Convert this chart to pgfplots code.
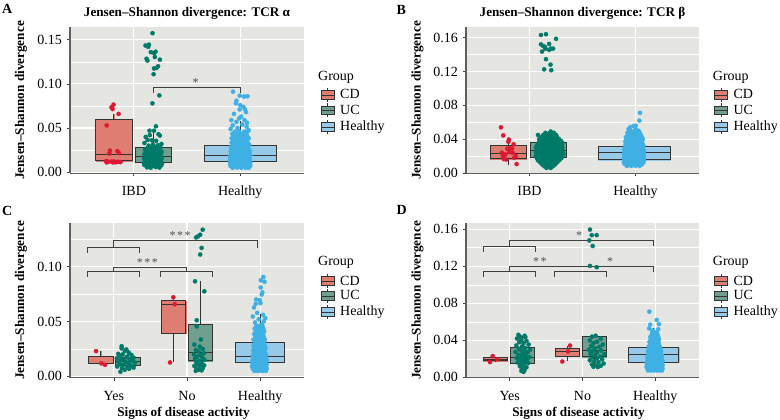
\documentclass[border=0pt]{standalone}
\usepackage{fontspec}
\setmainfont{Liberation Serif}
\usepackage{pgfplots}
\pgfplotsset{compat=1.18}
\usepgfplotslibrary{statistics}

\definecolor{bg}{RGB}{229,229,226}
\definecolor{CDpt}{RGB}{220,24,52}
\definecolor{CDbox}{RGB}{222,125,114}
\definecolor{UCpt}{RGB}{0,122,104}
\definecolor{UCbox}{RGB}{112,158,143}
\definecolor{HEpt}{RGB}{62,176,228}
\definecolor{HEbox}{RGB}{150,202,232}
\definecolor{axl}{RGB}{95,95,95}

\pgfplotsset{
  jsd/.style={
    scale only axis, anchor=south west,
    axis background/.style={fill=bg},
    axis x line*=bottom, axis y line*=left,
    axis line style={-, axl, line width=1.1pt},
    tick align=outside, major tick length=3pt, minor tick length=0pt,
    tick style={black!75, line width=0.7pt},
    xmajorgrids, ymajorgrids, yminorgrids,
    major grid style={white, line width=1.1pt},
    minor grid style={white, line width=0.55pt},
    tick label style={font=\fontsize{14}{14}\selectfont},
    /pgf/number format/assume math mode=true,
    yticklabel style={/pgf/number format/fixed, /pgf/number format/fixed zerofill, /pgf/number format/precision=2, anchor=east, inner sep=0pt, xshift=-5pt},
    xticklabel style={anchor=base, inner sep=0pt, yshift=-19.5pt},
    boxplot/draw direction=y,
    boxplot/whisker extend=0,
  },
  pts/.style={only marks, mark=*, mark size=2.1pt, color=#1, mark options={fill=#1, draw=#1, line width=0.3pt}},
  brk/.style={black!75, line width=0.8pt, mark=none},
}
\newcommand\bfill[4]{\addplot[boxplot prepared={draw position=#1, box extend=#2, #3}, draw=#4, fill=#4, line width=0.5pt] coordinates {};}
\newcommand\bline[3]{\addplot[boxplot prepared={draw position=#1, box extend=#2, #3}, draw=black!80, fill=none, line width=0.9pt] coordinates {};}
\newcommand\lkey[3]{%
  \draw[black!80, line width=0.8pt] (#1,#2-7) -- (#1,#2+7);
  \draw[black!80, line width=0.8pt, fill=#3] (#1-6.5,#2-4.3) rectangle (#1+6.5,#2+4.3);
  \draw[black!80, line width=0.8pt] (#1-6.5,#2) -- (#1+6.5,#2);}
\newcommand\sigstar[3]{\node[anchor=base, inner sep=0pt, black!70, font=\fontsize{12}{12}\selectfont] at (axis cs:#1,#2) {#3};}

\begin{document}
\begin{tikzpicture}
\path[use as bounding box] (0pt,0pt) rectangle (780pt,420pt);

% ---------------- Panel A ----------------
\begin{axis}[jsd, at={(70pt,246.5pt)}, width=234pt, height=146.5pt,
  xmin=0.4, xmax=2.6, ymin=-0.0015, ymax=0.1645,
  xtick={1,2}, xticklabels={IBD,Healthy},
  ytick={0,0.05,0.10,0.15}, minor ytick={0.025,0.075,0.125}]
\bfill{0.813}{0.34}{lower whisker=0.012, lower quartile=0.0128, median=0.0205, upper quartile=0.0602, upper whisker=0.066}{CDbox}
\bfill{1.184}{0.34}{lower whisker=0.0052, lower quartile=0.0114, median=0.0174, upper quartile=0.028, upper whisker=0.048}{UCbox}
\bfill{2.0}{0.68}{lower whisker=0.0064, lower quartile=0.0125, median=0.0185, upper quartile=0.0307, upper whisker=0.0575}{HEbox}
% CD points
\addplot[pts=CDpt] coordinates {(0.809,0.0765)(0.790,0.0735)(0.800,0.0715)(0.857,0.0660)(0.745,0.0530)(0.775,0.0245)(0.845,0.0238)(0.860,0.0215)(0.770,0.0210)(0.740,0.0125)(0.762,0.0118)(0.790,0.0120)(0.812,0.0122)(0.830,0.0112)(0.852,0.0118)(0.875,0.0115)(0.745,0.0110)(0.805,0.0110)};
% UC points
\addplot[pts=UCpt] coordinates {(1.176,0.1575)(1.110,0.1435)(1.135,0.1420)(1.142,0.1445)(1.160,0.1360)(1.190,0.1350)(1.205,0.1365)(1.120,0.1285)(1.128,0.1265)(1.198,0.1305)(1.245,0.1275)(1.228,0.1200)(1.212,0.1180)(1.190,0.1175)(1.186,0.1110)(1.175,0.0780)(1.240,0.0870)
(1.148,0.0470)(1.190,0.0470)(1.208,0.0520)(1.112,0.0400)(1.150,0.0420)(1.232,0.0430)(1.245,0.0415)(1.170,0.0360)(1.210,0.0355)(1.130,0.0365)(1.100,0.0330)(1.260,0.0320)(1.180,0.0310)(1.140,0.0300)(1.225,0.0305)
(1.125,0.0055)(1.160,0.0050)(1.205,0.0058)(1.240,0.0052)
(1.100,0.0080)(1.140,0.0083)(1.178,0.0078)(1.222,0.0081)(1.258,0.0077)
(1.095,0.0105)(1.120,0.0102)(1.158,0.0108)(1.195,0.0104)(1.232,0.0106)(1.265,0.0101)
(1.108,0.0130)(1.145,0.0128)(1.182,0.0133)(1.215,0.0129)(1.250,0.0131)
(1.097,0.0155)(1.130,0.0158)(1.168,0.0153)(1.205,0.0156)(1.240,0.0152)(1.262,0.0157)
(1.115,0.0180)(1.152,0.0178)(1.190,0.0183)(1.228,0.0179)(1.255,0.0182)
(1.100,0.0205)(1.138,0.0208)(1.175,0.0203)(1.212,0.0206)(1.248,0.0204)
(1.122,0.0230)(1.160,0.0228)(1.198,0.0233)(1.236,0.0229)(1.262,0.0231)
(1.105,0.0255)(1.145,0.0258)(1.185,0.0253)(1.222,0.0256)
(1.132,0.0280)(1.172,0.0278)(1.210,0.0283)(1.250,0.0279)};
% Healthy points
\addplot[pts=HEpt] coordinates {(1.933,0.0912)(1.996,0.0867)(2.037,0.0857)(2.068,0.0860)(1.965,0.0810)(1.960,0.0780)(2.000,0.0760)(2.030,0.0740)(1.995,0.0710)(2.045,0.0710)(2.055,0.0680)(1.942,0.0660)(2.010,0.0630)(1.990,0.0610)(1.917,0.0590)(1.965,0.0570)(2.040,0.0590)(2.065,0.0560)(1.930,0.0530)(2.020,0.0540)(2.060,0.0515)(1.975,0.0500)(1.910,0.0490)(2.080,0.0475)
(1.93,0.0050)(1.97,0.0052)(2.01,0.0049)(2.05,0.0051)(2.08,0.0050)
(1.91,0.0070)(1.95,0.0072)(1.99,0.0069)(2.03,0.0071)(2.07,0.0070)(2.095,0.0072)
(1.905,0.0090)(1.93,0.0092)(1.97,0.0089)(2.01,0.0091)(2.05,0.0090)(2.085,0.0092)
(1.91,0.0110)(1.95,0.0112)(1.99,0.0109)(2.03,0.0111)(2.07,0.0110)(2.095,0.0112)
(1.905,0.0130)(1.93,0.0132)(1.97,0.0129)(2.01,0.0131)(2.05,0.0130)(2.085,0.0132)
(1.91,0.0150)(1.95,0.0152)(1.99,0.0149)(2.03,0.0151)(2.07,0.0150)(2.09,0.0152)
(1.905,0.0170)(1.93,0.0172)(1.97,0.0169)(2.01,0.0171)(2.05,0.0170)(2.08,0.0172)
(1.91,0.0190)(1.95,0.0192)(1.99,0.0189)(2.03,0.0191)(2.07,0.0190)(2.095,0.0192)
(1.92,0.0210)(1.96,0.0212)(2.00,0.0209)(2.04,0.0211)(2.08,0.0210)
(1.91,0.0235)(1.94,0.0237)(1.98,0.0234)(2.02,0.0236)(2.06,0.0235)(2.09,0.0237)
(1.92,0.0260)(1.96,0.0262)(2.00,0.0259)(2.04,0.0261)(2.08,0.0260)
(1.915,0.0285)(1.95,0.0287)(1.99,0.0284)(2.03,0.0286)(2.07,0.0285)
(1.93,0.0310)(1.97,0.0312)(2.01,0.0309)(2.05,0.0311)(2.085,0.0310)
(1.92,0.0335)(1.96,0.0337)(2.00,0.0334)(2.04,0.0336)(2.07,0.0335)
(1.935,0.0360)(1.975,0.0362)(2.015,0.0359)(2.06,0.0361)
(1.92,0.0385)(1.96,0.0387)(2.00,0.0384)(2.045,0.0386)(2.08,0.0385)
(1.94,0.0410)(1.98,0.0412)(2.03,0.0409)(2.065,0.0411)
(1.925,0.0435)(1.97,0.0437)(2.01,0.0434)(2.05,0.0436)
(1.95,0.0460)(1.99,0.0462)(2.04,0.0459)(2.07,0.0461)};
\bline{0.813}{0.34}{lower whisker=0.012, lower quartile=0.0128, median=0.0205, upper quartile=0.0602, upper whisker=0.066}
\bline{1.184}{0.34}{lower whisker=0.0052, lower quartile=0.0114, median=0.0174, upper quartile=0.028, upper whisker=0.048}
\bline{2.0}{0.68}{lower whisker=0.0064, lower quartile=0.0125, median=0.0185, upper quartile=0.0307, upper whisker=0.0575}
\addplot[brk] coordinates {(1.184,0.0892)(1.184,0.0955)(2.0,0.0955)(2.0,0.0892)};
\sigstar{1.581}{0.0975}{*}
\end{axis}

% ---------------- Panel B ----------------
\begin{axis}[jsd, at={(466pt,246.5pt)}, width=233pt, height=146.5pt,
  xmin=0.4, xmax=2.6, ymin=-0.0005, ymax=0.1725,
  xtick={1,2}, xticklabels={IBD,Healthy},
  ytick={0,0.04,0.08,0.12,0.16}, minor ytick={0.02,0.06,0.10,0.14}]
\bfill{0.803}{0.34}{lower whisker=0.0094, lower quartile=0.0169, median=0.0232, upper quartile=0.0326, upper whisker=0.0424}{CDbox}
\bfill{1.18}{0.34}{lower whisker=0.0055, lower quartile=0.0181, median=0.0267, upper quartile=0.0357, upper whisker=0.0487}{UCbox}
\bfill{1.99}{0.68}{lower whisker=0.0082, lower quartile=0.0157, median=0.0247, upper quartile=0.0314, upper whisker=0.054}{HEbox}
\addplot[pts=CDpt] coordinates {(0.730,0.0540)(0.752,0.0445)(0.800,0.0370)(0.850,0.0340)(0.815,0.0295)(0.790,0.0288)(0.835,0.0290)(0.738,0.0240)(0.770,0.0220)(0.748,0.0200)(0.870,0.0200)(0.855,0.0180)(0.780,0.0160)(0.757,0.0165)(0.878,0.0106)(0.810,0.0250)(0.840,0.0240)(0.805,0.0395)};
\addplot[pts=UCpt] coordinates {(1.108,0.1630)(1.155,0.1640)(1.250,0.1585)(1.185,0.1525)(1.108,0.1520)(1.130,0.1500)(1.145,0.1490)(1.200,0.1470)(1.222,0.1470)(1.150,0.1468)(1.185,0.1455)(1.118,0.1435)(1.155,0.1345)(1.198,0.1280)(1.138,0.1225)(1.205,0.1215)
(1.16,0.006)(1.20,0.006)
(1.14,0.008)(1.18,0.008)(1.22,0.008)
(1.12,0.010)(1.16,0.010)(1.20,0.010)(1.24,0.010)
(1.10,0.0125)(1.14,0.0125)(1.18,0.0125)(1.22,0.0125)(1.26,0.0125)
(1.08,0.015)(1.12,0.015)(1.16,0.015)(1.20,0.015)(1.24,0.015)(1.28,0.015)
(1.07,0.0175)(1.10,0.0175)(1.14,0.0175)(1.18,0.0175)(1.22,0.0175)(1.26,0.0175)(1.30,0.0175)
(1.06,0.020)(1.09,0.020)(1.12,0.020)(1.16,0.020)(1.20,0.020)(1.24,0.020)(1.28,0.020)(1.31,0.020)
(1.07,0.0225)(1.10,0.0225)(1.14,0.0225)(1.18,0.0225)(1.22,0.0225)(1.26,0.0225)(1.30,0.0225)(1.32,0.0225)
(1.06,0.025)(1.09,0.025)(1.12,0.025)(1.16,0.025)(1.20,0.025)(1.24,0.025)(1.28,0.025)(1.31,0.025)
(1.07,0.0275)(1.10,0.0275)(1.14,0.0275)(1.18,0.0275)(1.22,0.0275)(1.26,0.0275)(1.30,0.0275)
(1.06,0.030)(1.09,0.030)(1.12,0.030)(1.16,0.030)(1.20,0.030)(1.24,0.030)(1.28,0.030)(1.31,0.030)
(1.07,0.0325)(1.10,0.0325)(1.14,0.0325)(1.18,0.0325)(1.22,0.0325)(1.26,0.0325)(1.30,0.0325)
(1.08,0.035)(1.12,0.035)(1.16,0.035)(1.20,0.035)(1.24,0.035)(1.28,0.035)(1.31,0.035)
(1.10,0.0375)(1.14,0.0375)(1.18,0.0375)(1.22,0.0375)(1.26,0.0375)(1.30,0.0375)
(1.09,0.040)(1.12,0.040)(1.16,0.040)(1.20,0.040)(1.24,0.040)(1.28,0.040)
(1.11,0.0425)(1.14,0.0425)(1.18,0.0425)(1.22,0.0425)(1.26,0.0425)
(1.08,0.045)(1.13,0.045)(1.17,0.045)(1.21,0.045)(1.25,0.045)
(1.15,0.0475)(1.19,0.0475)(1.23,0.0475)(1.20,0.049)};
\addplot[pts=HEpt] coordinates {(2.043,0.0710)(2.037,0.0620)(2.002,0.0560)(1.949,0.0540)(1.980,0.0555)
(1.92,0.0085)(1.96,0.0085)(2.00,0.0085)(2.04,0.0085)
(1.90,0.0105)(1.94,0.0105)(1.98,0.0105)(2.02,0.0105)(2.06,0.0105)
(1.89,0.0125)(1.92,0.0125)(1.96,0.0125)(2.00,0.0125)(2.04,0.0125)(2.075,0.0125)
(1.90,0.0150)(1.94,0.0150)(1.98,0.0150)(2.02,0.0150)(2.06,0.0150)(2.08,0.0150)
(1.89,0.0175)(1.92,0.0175)(1.96,0.0175)(2.00,0.0175)(2.04,0.0175)(2.075,0.0175)
(1.90,0.0200)(1.94,0.0200)(1.98,0.0200)(2.02,0.0200)(2.06,0.0200)(2.08,0.0200)
(1.89,0.0225)(1.92,0.0225)(1.96,0.0225)(2.00,0.0225)(2.04,0.0225)(2.075,0.0225)
(1.90,0.0250)(1.94,0.0250)(1.98,0.0250)(2.02,0.0250)(2.06,0.0250)(2.08,0.0250)
(1.895,0.0275)(1.92,0.0275)(1.96,0.0275)(2.00,0.0275)(2.04,0.0275)(2.075,0.0275)
(1.90,0.0300)(1.94,0.0300)(1.98,0.0300)(2.02,0.0300)(2.06,0.0300)
(1.905,0.0325)(1.93,0.0325)(1.97,0.0325)(2.01,0.0325)(2.05,0.0325)(2.075,0.0325)
(1.91,0.0350)(1.95,0.0350)(1.99,0.0350)(2.03,0.0350)(2.065,0.0350)
(1.905,0.0375)(1.94,0.0375)(1.98,0.0375)(2.02,0.0375)(2.06,0.0375)
(1.915,0.0400)(1.955,0.0400)(1.995,0.0400)(2.035,0.0400)(2.07,0.0400)
(1.91,0.0425)(1.95,0.0425)(1.99,0.0425)(2.03,0.0425)(2.06,0.0425)
(1.93,0.0450)(1.97,0.0450)(2.01,0.0450)(2.05,0.0450)
(1.925,0.0475)(1.965,0.0475)(2.005,0.0475)(2.04,0.0475)
(1.95,0.0500)(1.99,0.0500)(2.03,0.0500)(1.935,0.0520)(2.00,0.0520)};
\bline{0.803}{0.34}{lower whisker=0.0094, lower quartile=0.0169, median=0.0232, upper quartile=0.0326, upper whisker=0.0424}
\bline{1.18}{0.34}{lower whisker=0.0055, lower quartile=0.0181, median=0.0267, upper quartile=0.0357, upper whisker=0.0487}
\bline{1.99}{0.68}{lower whisker=0.0082, lower quartile=0.0157, median=0.0247, upper quartile=0.0314, upper whisker=0.054}
\end{axis}

% ---------------- Panel C ----------------
\begin{axis}[jsd, at={(70pt,42.2pt)}, width=234pt, height=154.6pt,
  xmin=0.4, xmax=3.6, ymin=-0.0013, ymax=0.1395,
  xtick={1,2,3}, xticklabels={Yes,No,Healthy},
  ytick={0,0.05,0.10}, minor ytick={0.025,0.075,0.125}]
\bfill{0.822}{0.335}{lower whisker=0.0115, lower quartile=0.0115, median=0.0118, upper quartile=0.0182, upper whisker=0.023}{CDbox}
\bfill{1.193}{0.335}{lower whisker=0.0051, lower quartile=0.010, median=0.0133, upper quartile=0.0173, upper whisker=0.024}{UCbox}
\bfill{1.817}{0.335}{lower whisker=0.0133, lower quartile=0.039, median=0.0657, upper quartile=0.0687, upper whisker=0.0705}{CDbox}
\bfill{2.182}{0.335}{lower whisker=0.0064, lower quartile=0.0142, median=0.0218, upper quartile=0.0475, upper whisker=0.0866}{UCbox}
\bfill{3.0}{0.667}{lower whisker=0.0057, lower quartile=0.013, median=0.0178, upper quartile=0.0309, upper whisker=0.0566}{HEbox}
\addplot[pts=CDpt] coordinates {(0.756,0.0230)(0.879,0.0105)(0.830,0.0118)(1.813,0.0720)(1.832,0.0657)(1.768,0.0127)};
\addplot[pts=UCpt] coordinates {(1.107,0.0275)(1.105,0.0255)(1.170,0.0245)(1.150,0.0230)(1.205,0.0215)(1.060,0.0205)(1.120,0.0200)(1.240,0.0195)(1.085,0.0185)(1.180,0.0180)(1.270,0.0170)(1.040,0.0165)(1.140,0.0160)(1.215,0.0155)(1.100,0.0150)(1.250,0.0145)(1.060,0.0135)(1.165,0.0130)(1.290,0.0125)(1.200,0.0120)(1.080,0.0110)(1.130,0.0105)(1.235,0.0100)(1.045,0.0090)(1.185,0.0085)(1.270,0.0080)(1.110,0.0075)(1.210,0.0070)(1.150,0.0060)(1.090,0.0042)
(2.215,0.1336)(2.180,0.1290)(2.150,0.1275)(2.125,0.1265)(2.200,0.1170)(2.180,0.1110)(2.110,0.0866)(2.237,0.0775)(2.133,0.0511)(2.133,0.0455)(2.190,0.0336)
(2.100,0.0290)(2.175,0.0270)(2.215,0.0250)(2.120,0.0240)(2.160,0.0225)(2.230,0.0210)(2.095,0.0200)(2.190,0.0195)(2.140,0.0180)(2.210,0.0170)(2.110,0.0160)(2.240,0.0150)(2.170,0.0140)(2.125,0.0130)(2.200,0.0120)(2.150,0.0110)(2.235,0.0100)(2.100,0.0095)(2.180,0.0085)(2.215,0.0075)(2.130,0.0070)(2.165,0.0060)(2.120,0.0050)(2.200,0.0055)};
\addplot[pts=HEpt] coordinates {(3.044,0.0905)(3.010,0.0875)(3.060,0.0862)(3.008,0.0810)(3.030,0.0765)(3.022,0.0745)(2.945,0.0700)(2.995,0.0694)(2.940,0.0660)(3.005,0.0667)(2.915,0.0627)(2.960,0.0578)(3.040,0.0560)(2.900,0.0545)(3.070,0.0530)(2.980,0.0520)(3.050,0.0500)(2.930,0.0490)(3.020,0.0470)
(2.92,0.0050)(2.96,0.0050)(3.00,0.0050)(3.04,0.0050)(3.08,0.0050)
(2.90,0.0070)(2.94,0.0070)(2.98,0.0070)(3.02,0.0070)(3.06,0.0070)(3.09,0.0070)
(2.89,0.0090)(2.92,0.0090)(2.96,0.0090)(3.00,0.0090)(3.04,0.0090)(3.08,0.0090)
(2.90,0.0110)(2.94,0.0110)(2.98,0.0110)(3.02,0.0110)(3.06,0.0110)(3.09,0.0110)
(2.89,0.0130)(2.92,0.0130)(2.96,0.0130)(3.00,0.0130)(3.04,0.0130)(3.08,0.0130)
(2.90,0.0150)(2.94,0.0150)(2.98,0.0150)(3.02,0.0150)(3.06,0.0150)(3.09,0.0150)
(2.91,0.0170)(2.95,0.0170)(2.99,0.0170)(3.03,0.0170)(3.07,0.0170)
(2.90,0.0190)(2.93,0.0190)(2.97,0.0190)(3.01,0.0190)(3.05,0.0190)(3.08,0.0190)
(2.92,0.0210)(2.96,0.0210)(3.00,0.0210)(3.04,0.0210)(3.07,0.0210)
(2.905,0.0235)(2.94,0.0235)(2.98,0.0235)(3.02,0.0235)(3.06,0.0235)
(2.92,0.0260)(2.96,0.0260)(3.00,0.0260)(3.04,0.0260)(3.075,0.0260)
(2.91,0.0285)(2.95,0.0285)(2.99,0.0285)(3.03,0.0285)(3.06,0.0285)
(2.93,0.0310)(2.97,0.0310)(3.01,0.0310)(3.05,0.0310)
(2.91,0.0335)(2.95,0.0335)(2.99,0.0335)(3.03,0.0335)(3.065,0.0335)
(2.935,0.0360)(2.975,0.0360)(3.015,0.0360)(3.05,0.0360)
(2.92,0.0385)(2.96,0.0385)(3.00,0.0385)(3.04,0.0385)
(2.94,0.0410)(2.98,0.0410)(3.02,0.0410)(3.055,0.0410)
(2.925,0.0435)(2.965,0.0435)(3.005,0.0435)(3.045,0.0435)
(2.95,0.0460)(2.99,0.0460)(3.03,0.0460)};
\bline{0.822}{0.335}{lower whisker=0.0115, lower quartile=0.0115, median=0.0118, upper quartile=0.0182, upper whisker=0.023}
\bline{1.193}{0.335}{lower whisker=0.0051, lower quartile=0.010, median=0.0133, upper quartile=0.0173, upper whisker=0.024}
\bline{1.817}{0.335}{lower whisker=0.0133, lower quartile=0.039, median=0.0657, upper quartile=0.0687, upper whisker=0.0705}
\bline{2.182}{0.335}{lower whisker=0.0064, lower quartile=0.0142, median=0.0218, upper quartile=0.0475, upper whisker=0.0866}
\bline{3.0}{0.667}{lower whisker=0.0057, lower quartile=0.013, median=0.0178, upper quartile=0.0309, upper whisker=0.0566}
\addplot[brk] coordinates {(0.637,0.1124)(0.637,0.1173)(1.348,0.1173)(1.348,0.1124)};
\addplot[brk] coordinates {(0.99,0.1173)(0.99,0.1239)(2.968,0.1239)(2.968,0.1173)};
\addplot[brk] coordinates {(0.637,0.0906)(0.637,0.096)(1.348,0.096)(1.348,0.0906)};
\addplot[brk] coordinates {(0.99,0.096)(0.99,0.0996)(1.994,0.0996)(1.994,0.096)};
\addplot[brk] coordinates {(1.641,0.0906)(1.641,0.096)(2.347,0.096)(2.347,0.0906)};
\sigstar{1.905}{0.1245}{*\kern1.5pt*\kern1.5pt*}
\sigstar{1.457}{0.1002}{*\kern1.5pt*\kern1.5pt*}
\end{axis}

% ---------------- Panel D ----------------
\begin{axis}[jsd, at={(466pt,42.2pt)}, width=233pt, height=154.6pt,
  xmin=0.4, xmax=3.6, ymin=-0.0004, ymax=0.1665,
  xtick={1,2,3}, xticklabels={Yes,No,Healthy},
  ytick={0,0.04,0.08,0.12,0.16}, minor ytick={0.02,0.06,0.10,0.14}]
\bfill{0.803}{0.33}{lower whisker=0.0175, lower quartile=0.018, median=0.0197, upper quartile=0.0215, upper whisker=0.0225}{CDbox}
\bfill{1.176}{0.33}{lower whisker=0.0058, lower quartile=0.015, median=0.0215, upper quartile=0.0323, upper whisker=0.045}{UCbox}
\bfill{1.797}{0.33}{lower whisker=0.018, lower quartile=0.0226, median=0.028, upper quartile=0.0316, upper whisker=0.0344}{CDbox}
\bfill{2.161}{0.33}{lower whisker=0.0118, lower quartile=0.0223, median=0.0287, upper quartile=0.0441, upper whisker=0.045}{UCbox}
\bfill{2.98}{0.687}{lower whisker=0.0072, lower quartile=0.0161, median=0.0251, upper quartile=0.0327, upper whisker=0.0538}{HEbox}
\addplot[pts=CDpt] coordinates {(0.767,0.0230)(0.730,0.0166)(0.830,0.0195)(1.829,0.0344)(1.800,0.0280)(1.723,0.0172)};
\addplot[pts=UCpt] coordinates {(1.120,0.0460)(1.205,0.0450)(1.140,0.0440)(1.215,0.0435)(1.100,0.0420)(1.160,0.0405)(1.230,0.0395)(1.130,0.0380)(1.190,0.0370)(1.260,0.0355)(1.090,0.0345)(1.170,0.0335)(1.210,0.0320)(1.125,0.0310)(1.280,0.0300)(1.150,0.0295)(1.200,0.0285)(1.080,0.0275)(1.245,0.0270)(1.175,0.0255)(1.120,0.0245)(1.220,0.0235)(1.150,0.0225)(1.270,0.0220)(1.095,0.0210)(1.190,0.0205)(1.235,0.0195)(1.130,0.0190)(1.170,0.0180)(1.210,0.0170)(1.110,0.0160)(1.255,0.0155)(1.160,0.0145)(1.195,0.0130)(1.140,0.0120)(1.230,0.0110)(1.175,0.0095)(1.205,0.0080)(1.160,0.0070)(1.190,0.0060)
(2.103,0.1596)(2.127,0.1536)(2.195,0.1536)(2.094,0.1479)(2.140,0.1419)(2.103,0.1204)(2.195,0.1190)
(2.180,0.0450)(2.130,0.0440)(2.250,0.0420)(2.100,0.0400)(2.200,0.0385)(2.150,0.0370)(2.280,0.0355)(2.120,0.0340)(2.230,0.0330)(2.170,0.0315)(2.090,0.0300)(2.260,0.0290)(2.140,0.0285)(2.200,0.0270)(2.110,0.0255)(2.300,0.0250)(2.170,0.0240)(2.240,0.0225)(2.130,0.0215)(2.200,0.0205)(2.270,0.0195)(2.100,0.0185)(2.160,0.0175)(2.220,0.0165)(2.290,0.0150)(2.130,0.0140)(2.190,0.0130)(2.250,0.0125)(2.150,0.0115)(2.210,0.0112)};
\addplot[pts=HEpt] coordinates {(2.918,0.0710)(3.020,0.0620)(3.050,0.0575)(2.930,0.0570)(2.915,0.0530)(3.040,0.0520)(2.960,0.0505)
(2.90,0.0075)(2.94,0.0075)(2.98,0.0075)(3.02,0.0075)(3.06,0.0075)(3.09,0.0075)
(2.89,0.0095)(2.92,0.0095)(2.96,0.0095)(3.00,0.0095)(3.04,0.0095)(3.08,0.0095)(3.10,0.0095)
(2.88,0.0115)(2.91,0.0115)(2.94,0.0115)(2.98,0.0115)(3.02,0.0115)(3.06,0.0115)(3.09,0.0115)
(2.89,0.0135)(2.92,0.0135)(2.96,0.0135)(3.00,0.0135)(3.04,0.0135)(3.08,0.0135)(3.10,0.0135)
(2.88,0.0155)(2.91,0.0155)(2.94,0.0155)(2.98,0.0155)(3.02,0.0155)(3.06,0.0155)(3.09,0.0155)
(2.89,0.0175)(2.92,0.0175)(2.96,0.0175)(3.00,0.0175)(3.04,0.0175)(3.08,0.0175)(3.10,0.0175)
(2.90,0.0195)(2.94,0.0195)(2.98,0.0195)(3.02,0.0195)(3.06,0.0195)(3.09,0.0195)
(2.89,0.0215)(2.92,0.0215)(2.96,0.0215)(3.00,0.0215)(3.04,0.0215)(3.08,0.0215)
(2.90,0.0235)(2.94,0.0235)(2.98,0.0235)(3.02,0.0235)(3.06,0.0235)(3.09,0.0235)
(2.91,0.0260)(2.95,0.0260)(2.99,0.0260)(3.03,0.0260)(3.07,0.0260)
(2.90,0.0285)(2.93,0.0285)(2.97,0.0285)(3.01,0.0285)(3.05,0.0285)(3.08,0.0285)
(2.92,0.0310)(2.96,0.0310)(3.00,0.0310)(3.04,0.0310)(3.07,0.0310)
(2.91,0.0335)(2.95,0.0335)(2.99,0.0335)(3.03,0.0335)(3.06,0.0335)
(2.93,0.0360)(2.97,0.0360)(3.01,0.0360)(3.05,0.0360)
(2.92,0.0385)(2.96,0.0385)(3.00,0.0385)(3.04,0.0385)
(2.94,0.0410)(2.98,0.0410)(3.02,0.0410)(3.05,0.0410)
(2.93,0.0435)(2.97,0.0435)(3.01,0.0435)(3.04,0.0435)
(2.95,0.0460)(2.99,0.0460)(3.03,0.0460)
(2.96,0.0485)(3.00,0.0485)(3.02,0.0485)};
\bline{0.803}{0.33}{lower whisker=0.0175, lower quartile=0.018, median=0.0197, upper quartile=0.0215, upper whisker=0.0225}
\bline{1.176}{0.33}{lower whisker=0.0058, lower quartile=0.015, median=0.0215, upper quartile=0.0323, upper whisker=0.045}
\bline{1.797}{0.33}{lower whisker=0.018, lower quartile=0.0226, median=0.028, upper quartile=0.0316, upper whisker=0.0344}
\bline{2.161}{0.33}{lower whisker=0.0118, lower quartile=0.0223, median=0.0287, upper quartile=0.0441, upper whisker=0.045}
\bline{2.98}{0.687}{lower whisker=0.0072, lower quartile=0.0161, median=0.0251, upper quartile=0.0327, upper whisker=0.0538}
\addplot[brk] coordinates {(0.638,0.1355)(0.638,0.1416)(1.352,0.1416)(1.352,0.1355)};
\addplot[brk] coordinates {(0.99,0.1416)(0.99,0.148)(2.97,0.148)(2.97,0.1416)};
\addplot[brk] coordinates {(0.638,0.108)(0.638,0.114)(1.352,0.114)(1.352,0.108)};
\addplot[brk] coordinates {(0.99,0.114)(0.99,0.120)(2.97,0.120)(2.97,0.114)};
\addplot[brk] coordinates {(1.613,0.108)(1.613,0.114)(2.323,0.114)(2.323,0.108)};
\sigstar{1.952}{0.1485}{*}
\sigstar{1.416}{0.1205}{*\kern1.5pt*}
\sigstar{2.378}{0.1205}{*}
\end{axis}

% ---------------- Texts ----------------
\begin{scope}[x=1pt,y=1pt]
\tikzset{lab/.style={font=\bfseries\fontsize{13.2}{13.2}\selectfont, inner sep=0pt},
         leg/.style={font=\fontsize{14}{14}\selectfont, inner sep=0pt, anchor=base west}}
\node[font=\bfseries\fontsize{14}{14}\selectfont, anchor=base west, inner sep=0pt] at (2,406) {A};
\node[font=\bfseries\fontsize{14}{14}\selectfont, anchor=base west, inner sep=0pt] at (396.5,405) {B};
\node[font=\bfseries\fontsize{14}{14}\selectfont, anchor=base west, inner sep=0pt] at (2,204) {C};
\node[font=\bfseries\fontsize{14}{14}\selectfont, anchor=base west, inner sep=0pt] at (396.5,205) {D};
\node[lab, anchor=base] at (187,403.3) {Jensen–Shannon divergence: TCR α};
\node[lab, anchor=base] at (582.5,403.3) {Jensen–Shannon divergence: TCR β};
\node[lab, rotate=90] at (21,319.5) {Jensen–Shannon divergence};
\node[lab, rotate=90] at (417.5,319.5) {Jensen–Shannon divergence};
\node[lab, rotate=90] at (21,119.5) {Jensen–Shannon divergence};
\node[lab, rotate=90] at (417.5,119.5) {Jensen–Shannon divergence};
\node[lab] at (183.5,6.5) {Signs of disease activity};
\node[lab] at (578.5,6.5) {Signs of disease activity};
% legends
\node[leg] at (318,339) {Group};
\lkey{327.5}{325}{CDbox}\lkey{327.5}{309.5}{UCbox}\lkey{327.5}{293}{HEbox}
\node[leg] at (340,321) {CD};\node[leg] at (340,305.7) {UC};\node[leg] at (340,289) {Healthy};
\node[leg] at (712.7,339) {Group};
\lkey{721.2}{325}{CDbox}\lkey{721.2}{309.5}{UCbox}\lkey{721.2}{293}{HEbox}
\node[leg] at (733.3,321) {CD};\node[leg] at (733.3,305.7) {UC};\node[leg] at (733.3,289) {Healthy};
\node[leg] at (318,154) {Group};
\lkey{327.5}{139}{CDbox}\lkey{327.5}{124}{UCbox}\lkey{327.5}{108}{HEbox}
\node[leg] at (340,134.3) {CD};\node[leg] at (340,120) {UC};\node[leg] at (340,104) {Healthy};
\node[leg] at (712.7,154) {Group};
\lkey{721.2}{139}{CDbox}\lkey{721.2}{124}{UCbox}\lkey{721.2}{108}{HEbox}
\node[leg] at (733.3,134.3) {CD};\node[leg] at (733.3,120) {UC};\node[leg] at (733.3,104) {Healthy};
\end{scope}
\end{tikzpicture}
\end{document}
